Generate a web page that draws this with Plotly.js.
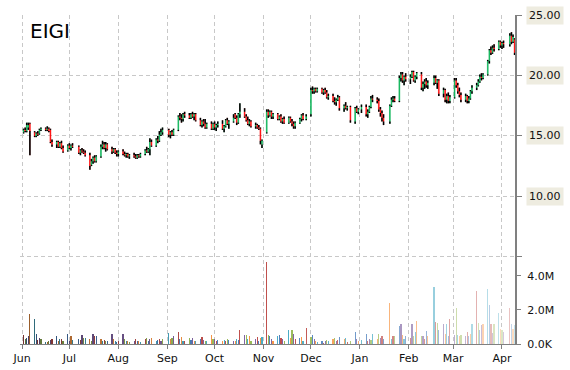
<!DOCTYPE html>
<html>
<head>
<meta charset="utf-8">
<script src="https://cdn.plot.ly/plotly-3.0.1.min.js"></script>
<style>
  html, body { margin: 0; padding: 0; background: #ffffff; }
  #chart { width: 570px; height: 370px; }
</style>
</head>
<body>
<div id="chart"></div>
<script>
// ---------------- DATA ----------------
const symbol = 'EIGI';
const startDate = '2014-06-02';
const endDate = '2015-04-09';
const holidays = ['2014-07-04','2014-09-01','2014-11-27','2014-12-25','2015-01-01','2015-01-19','2015-02-16','2015-04-03'];

// Jun .. Apr, one entry per trading day
const openPrices = [
  15.3,15.5,15.4,15.7,16.0,15.3,15.0,15.2,15.2,15.5,15.6,15.5,15.6,15.5,14.5,14.3,14.5,14.1,14.4,14.0,13.8,
  14.2,14.0,14.2,14.1,13.6,13.8,13.7,13.6,13.4,12.6,12.9,13.2,12.9,13.3,14.1,14.3,14.0,14.3,13.9,13.7,13.9,13.6,
  13.5,13.7,13.5,13.4,13.5,13.3,13.4,13.3,13.2,13.4,13.3,13.5,13.8,13.7,13.9,14.5,14.2,14.7,14.6,15.1,15.3,
  15.5,15.1,15.3,15.1,15.5,16.6,16.5,16.4,16.8,16.7,16.5,16.8,16.6,16.8,16.3,15.9,16.2,16.0,15.7,16.0,15.6,
  16.0,15.7,15.9,16.0,15.6,15.8,16.3,16.0,16.2,16.8,16.5,16.1,16.8,17.0,16.6,16.3,16.0,16.2,15.8,15.9,15.7,15.6,14.3,
  15.3,17.0,16.7,17.0,16.6,16.8,16.4,16.6,16.2,16.4,16.1,16.5,16.2,16.0,15.8,16.1,16.4,16.7,16.4,
  16.8,18.8,18.7,18.9,18.7,18.9,18.6,18.8,18.6,18.2,18.3,17.9,17.8,18.0,18.2,17.3,17.5,17.3,17.4,16.2,17.3,17.0,
  17.2,17.4,16.8,17.0,17.4,18.1,18.0,17.9,17.2,16.9,16.5,16.2,17.5,18.0,18.1,17.9,19.8,20.1,19.6,19.9,
  19.7,19.9,20.3,19.6,19.9,20.1,19.0,19.3,19.5,19.2,19.4,19.8,19.4,19.6,18.5,18.8,18.0,18.3,17.9,
  18.2,19.6,19.2,18.7,18.4,18.0,18.3,17.9,18.1,18.7,19.0,19.2,19.5,19.9,19.8,20.1,21.2,22.1,21.9,22.3,22.2,22.8,
  22.5,22.7,22.6,23.3,22.8,23.0
];
const highPrices = [
  15.6,15.7,16.1,16.1,16.1,15.4,15.3,15.4,15.6,15.7,15.7,15.8,15.7,15.6,14.7,14.6,14.6,14.5,14.6,14.2,14.3,
  14.4,14.3,14.4,14.2,13.9,14.0,13.9,13.8,13.6,13.1,13.3,13.4,13.4,14.3,14.6,14.5,14.5,14.4,14.1,14.0,14.0,13.8,
  13.8,13.9,13.7,13.6,13.6,13.5,13.6,13.5,13.5,13.5,13.6,13.9,14.1,14.0,14.8,14.7,14.8,15.0,15.4,15.6,15.7,
  15.6,15.4,15.5,15.6,16.7,16.9,16.8,16.9,17.0,16.9,16.9,17.0,16.9,16.9,16.5,16.3,16.4,16.4,16.1,16.2,16.1,
  16.2,16.0,16.2,16.3,15.9,16.4,16.5,16.3,16.8,16.9,16.7,16.9,17.7,17.3,16.8,16.6,16.4,16.3,16.1,16.0,15.9,15.7,14.7,
  17.2,17.2,17.1,17.1,16.9,16.9,16.7,16.8,16.5,16.6,16.6,16.6,16.4,16.2,16.2,16.5,16.8,16.9,16.8,
  19.0,19.1,19.0,19.0,19.0,19.0,18.9,19.0,18.8,18.5,18.5,18.2,18.1,18.4,18.3,17.6,17.8,17.5,17.5,17.4,17.5,17.3,
  17.6,17.6,17.2,17.5,18.3,18.4,18.2,18.1,17.4,17.1,16.8,17.6,18.2,18.3,18.3,20.0,20.3,20.3,20.0,20.2,
  20.1,20.4,20.4,20.0,20.3,20.3,19.5,19.7,19.8,19.6,20.0,20.0,19.7,19.7,19.0,18.9,18.5,18.6,18.4,
  19.8,19.8,19.4,19.0,18.6,18.5,18.4,18.3,18.8,19.2,19.4,19.7,20.1,20.2,20.2,21.3,22.2,22.4,22.5,22.6,22.9,22.9,
  22.8,22.9,23.5,23.6,23.4,23.1
];
const lowPrices = [
  15.2,15.3,15.3,15.5,13.4,14.9,14.9,15.0,15.1,15.4,15.4,15.4,15.3,14.4,14.1,14.0,14.0,14.0,13.9,13.6,13.7,
  13.9,13.8,14.0,13.5,13.4,13.6,13.5,13.3,12.2,12.5,12.7,12.8,12.8,13.2,13.9,13.9,13.7,13.8,13.5,13.6,13.5,13.3,
  13.3,13.4,13.3,13.2,13.2,13.1,13.2,13.1,13.1,13.2,13.2,13.4,13.6,13.6,13.4,14.1,14.1,14.4,14.5,15.0,15.1,
  14.9,14.8,15.0,15.0,15.4,16.3,16.1,16.2,16.5,16.4,16.4,16.5,16.3,16.2,15.8,15.7,15.8,15.6,15.6,15.5,15.5,
  15.5,15.4,15.7,15.5,15.3,15.7,15.9,15.6,16.1,16.4,15.9,16.0,16.5,16.5,16.2,15.9,15.8,15.7,15.6,15.6,15.5,14.3,14.0,
  15.2,16.5,16.6,16.4,16.4,16.3,16.3,16.1,16.0,16.0,16.0,16.1,15.8,15.6,15.6,16.0,16.2,16.3,16.3,
  16.6,18.5,18.5,18.6,18.6,18.5,18.4,18.5,18.1,18.0,17.8,17.6,17.5,17.9,17.1,17.0,17.2,17.1,16.1,16.0,16.9,16.8,
  16.9,16.6,16.5,16.9,17.3,17.8,17.7,17.0,16.6,16.2,15.9,16.0,17.4,17.8,17.8,17.8,19.5,19.4,19.2,19.5,
  19.3,19.8,19.5,19.4,19.7,18.8,18.7,18.9,19.0,18.9,19.2,19.3,18.9,18.3,18.2,17.8,17.7,17.7,17.7,
  18.1,19.0,18.5,18.2,17.8,17.8,17.7,17.7,18.0,18.5,18.8,19.1,19.4,19.6,19.7,20.0,21.0,21.7,21.8,22.0,22.1,22.3,
  22.2,22.3,22.4,22.6,22.7,21.7
];
const closePrices = [
  15.5,15.4,15.9,15.9,15.4,15.0,15.2,15.1,15.5,15.6,15.5,15.6,15.4,14.5,14.3,14.5,14.1,14.4,14.0,13.7,14.2,
  14.0,14.2,14.1,13.6,13.8,13.7,13.6,13.4,12.5,12.9,13.2,12.9,13.3,14.1,14.3,14.0,14.3,13.9,13.7,13.9,13.6,13.5,
  13.7,13.5,13.4,13.5,13.3,13.4,13.3,13.2,13.4,13.3,13.5,13.8,13.7,13.9,14.5,14.2,14.7,14.6,15.1,15.3,15.5,
  15.1,15.3,15.1,15.5,16.6,16.5,16.4,16.8,16.7,16.5,16.8,16.6,16.8,16.3,15.9,16.2,16.0,15.7,16.0,15.6,16.0,
  15.7,15.9,16.0,15.6,15.8,16.3,16.0,16.2,16.5,16.5,16.1,16.8,17.0,16.6,16.3,16.0,16.2,15.8,15.9,15.7,15.6,14.6,14.6,
  17.0,16.7,17.0,16.6,16.8,16.4,16.6,16.2,16.4,16.1,16.5,16.2,16.0,15.8,16.1,16.4,16.7,16.4,16.6,
  18.8,18.7,18.9,18.7,18.9,18.6,18.8,18.6,18.2,18.3,17.9,17.8,18.0,18.2,17.3,17.5,17.3,17.4,16.3,17.3,17.0,17.2,
  17.4,16.8,17.0,17.4,18.1,18.0,17.9,17.2,16.9,16.5,16.2,17.5,18.0,18.1,17.9,19.8,20.1,19.6,19.9,19.7,
  19.9,20.3,19.6,19.9,20.2,19.0,19.3,19.5,19.2,19.4,19.8,19.4,19.6,18.5,18.8,18.0,18.3,17.9,18.2,
  19.6,19.2,18.7,18.4,18.0,18.3,17.9,18.1,18.7,19.0,19.2,19.5,19.9,19.8,20.1,21.2,22.1,21.9,22.3,22.2,22.8,22.5,
  22.7,22.6,23.3,22.8,23.2,21.9
];
// volume in millions of shares
const volumeM = [
  0.55,0.3,0.35,0.5,1.78,1.5,0.6,0.25,0.35,0.3,0.1,0.12,0.15,0.25,0.3,0.47,0.2,0.3,0.3,0.2,0.57,
  0.2,0.5,0.25,0.3,0.25,0.55,0.35,0.35,0.3,0.2,0.6,0.45,0.5,0.3,0.2,0.25,0.15,0.2,0.6,0.3,0.15,0.1,
  0.15,0.6,0.3,0.2,0.15,0.1,0.15,0.3,0.2,0.2,0.1,0.3,0.35,0.2,0.3,0.35,0.15,0.25,0.3,0.2,0.3,
  0.65,0.3,0.35,0.45,0.7,0.3,0.4,0.2,0.15,0.35,0.25,0.35,0.2,0.15,0.3,0.4,0.25,0.15,0.2,0.55,0.3,
  0.3,0.2,0.25,0.15,0.25,0.2,0.3,0.25,0.15,0.2,0.3,0.25,0.85,0.55,0.55,0.3,0.45,0.2,0.3,0.4,0.15,0.35,0.4,
  4.8,0.53,0.5,0.3,0.2,0.45,0.53,0.35,0.3,0.2,0.82,0.35,0.82,0.6,0.3,0.35,0.4,0.15,0.96,
  0.4,0.55,0.3,0.2,0.1,0.15,0.05,0.2,0.25,0.15,0.3,0.35,0.2,0.25,0.4,0.3,0.35,0.1,0.15,0.7,0.3,0.2,
  0.25,0.6,0.2,0.3,0.25,0.6,0.3,0.6,0.35,0.5,0.3,2.43,0.3,0.5,0.45,1.05,1.15,0.55,0.3,0.45,
  0.35,1.15,0.45,0.7,1.35,0.5,0.5,0.3,0.75,0.45,3.37,1.3,1.25,0.85,1.2,0.6,1.15,0.5,1.45,
  0.55,2.1,0.55,0.5,0.55,0.5,0.7,0.5,0.6,1.15,3.14,1.25,0.8,1.1,1.2,3.24,2.3,1.2,0.65,1.15,1.8,0.9,
  0.85,0.7,2.1,1.15,0.9,1.1
];
const priceTicks = [5, 10, 15, 20, 25];
const priceTickLabels = ['', '10.00', '15.00', '20.00', '25.00'];
const volumeTicks = [0, 2e6, 4e6];
const volumeTickLabels = ['0.0K', '2.0M', '4.0M'];
const monthTicks = ['2014-06-01','2014-07-01','2014-08-01','2014-09-01','2014-10-01','2014-11-01','2014-12-01','2015-01-01','2015-02-01','2015-03-01','2015-04-01'];
const monthLabels = ['Jun','Jul','Aug','Sep','Oct','Nov','Dec','Jan','Feb','Mar','Apr'];

// ---------------- BUILD ----------------
function tradingDays(start, end, skip) {
  const out = [];
  const d = new Date(start + 'T00:00:00Z');
  const e = new Date(end + 'T00:00:00Z');
  while (d <= e) {
    const wd = d.getUTCDay();
    const s = d.toISOString().slice(0, 10);
    if (wd !== 0 && wd !== 6 && skip.indexOf(s) < 0) out.push(s);
    d.setUTCDate(d.getUTCDate() + 1);
  }
  return out;
}
const allDays = tradingDays(startDate, endDate, holidays);
const n = Math.min(allDays.length, openPrices.length, highPrices.length, lowPrices.length, closePrices.length, volumeM.length);
const dates = allDays.slice(0, n);
const O = openPrices.slice(0, n), H = highPrices.slice(0, n), L = lowPrices.slice(0, n), C = closePrices.slice(0, n);
const bodyTop = O.map((o, i) => Math.max(o, C[i]));
const bodyBot = O.map((o, i) => Math.min(o, C[i]));
const upperWick = H.map((h, i) => Math.max(0, h - bodyTop[i]));
const lowerWick = L.map((l, i) => Math.max(0, bodyBot[i] - l));
const zeros = dates.map(() => 0);
const volumes = volumeM.slice(0, n).map(v => v * 1e6);

// volume bar colours: cycling palette, darker early, faded late
const palette = ['#c0504d', '#9bbb59', '#4f81bd', '#8064a2', '#f79646', '#4bacc6'];
const order = [0,1,2,3,4,5,2,0,3,1,5,4,1,3,0,2,4,5];
function shade(hex, t) {
  let r = parseInt(hex.slice(1, 3), 16), g = parseInt(hex.slice(3, 5), 16), b = parseInt(hex.slice(5, 7), 16);
  if (t < 0.4) {
    const k = 0.4 * (0.4 - t) / 0.4;
    r *= (1 - k); g *= (1 - k); b *= (1 - k);
  } else if (t > 0.55) {
    const k = 0.68 * (t - 0.55) / 0.45;
    r += (255 - r) * k; g += (255 - g) * k; b += (255 - b) * k;
  }
  return 'rgb(' + Math.round(r) + ',' + Math.round(g) + ',' + Math.round(b) + ')';
}
const volColors = dates.map((d, i) => shade(palette[order[i % order.length]], i / (n - 1)));

const gridColor = '#c8c8c8';
const axisColor = '#808080';
const fontFamily = 'DejaVu Sans, Verdana, sans-serif';

const traces = [
  {
    type: 'bar', x: dates, y: volumes, yaxis: 'y2',
    width: 86400000 * 0.75,
    marker: { color: volColors, line: { width: 0 } },
    hoverinfo: 'skip', showlegend: false
  },
  {
    type: 'candlestick', x: dates, open: O, high: H, low: L, close: C,
    increasing: { line: { color: '#00b050', width: 0.6 }, fillcolor: '#00b050' },
    decreasing: { line: { color: '#ff0000', width: 0.6 }, fillcolor: '#ff0000' },
    whiskerwidth: 0, hoverinfo: 'skip', showlegend: false
  },
  {
    type: 'scatter', mode: 'markers', x: dates, y: bodyTop,
    marker: { size: 1, opacity: 0 },
    error_y: { type: 'data', symmetric: false, array: upperWick, arrayminus: zeros, color: '#000000', thickness: 1.6, width: 0 },
    hoverinfo: 'skip', showlegend: false
  },
  {
    type: 'scatter', mode: 'markers', x: dates, y: bodyBot,
    marker: { size: 1, opacity: 0 },
    error_y: { type: 'data', symmetric: false, array: zeros, arrayminus: lowerWick, color: '#000000', thickness: 1.6, width: 0 },
    hoverinfo: 'skip', showlegend: false
  }
];

const annotations = [{
  text: symbol, xref: 'paper', yref: 'paper', x: 0.016, y: 0.952,
  xanchor: 'left', yanchor: 'middle', showarrow: false,
  font: { family: fontFamily, size: 20, color: '#000000' }
}];
priceTicks.forEach((v, i) => {
  if (!priceTickLabels[i]) return;
  annotations.push({
    text: priceTickLabels[i], xref: 'paper', yref: 'y', x: 1, y: v,
    xanchor: 'left', yanchor: 'middle', xshift: 11, showarrow: false,
    bgcolor: '#eeece0', borderpad: 2,
    font: { family: fontFamily, size: 11, color: '#111111' }
  });
});

const layout = {
  width: 570, height: 370,
  margin: { l: 20, r: 55, t: 15, b: 26, pad: 0 },
  paper_bgcolor: '#ffffff', plot_bgcolor: '#ffffff',
  showlegend: false,
  font: { family: fontFamily, size: 11, color: '#111111' },
  xaxis: {
    type: 'date',
    range: ['2014-05-30 17:30', '2015-04-09 06:00'],
    rangeslider: { visible: false },
    tickvals: monthTicks, ticktext: monthLabels,
    ticks: 'outside', ticklen: 4, tickcolor: axisColor,
    showline: true, linecolor: axisColor, linewidth: 1,
    showgrid: true, gridcolor: gridColor, gridwidth: 1, griddash: '4px,3px',
    zeroline: false, fixedrange: true,
    tickfont: { family: fontFamily, size: 11, color: '#111111' }
  },
  yaxis: {
    side: 'right', range: [-2.24, 25.02],
    tickvals: priceTicks, ticktext: priceTickLabels, showticklabels: false,
    ticks: 'outside', ticklen: 5, tickcolor: axisColor,
    showline: true, linecolor: axisColor, linewidth: 1.5,
    showgrid: true, gridcolor: gridColor, gridwidth: 1, griddash: '4px,3px',
    zeroline: false, fixedrange: true
  },
  yaxis2: {
    overlaying: 'y', side: 'right', range: [0, 19.35e6],
    tickvals: volumeTicks, ticktext: volumeTickLabels,
    ticks: 'outside', ticklen: 5, tickcolor: axisColor,
    ticklabelstandoff: 4,
    showline: false, showgrid: false, zeroline: false, fixedrange: true,
    tickfont: { family: fontFamily, size: 11, color: '#111111' }
  },
  annotations: annotations,
  bargap: 0
};

Plotly.newPlot('chart', traces, layout, { displayModeBar: false, staticPlot: true });
</script>
</body>
</html>
